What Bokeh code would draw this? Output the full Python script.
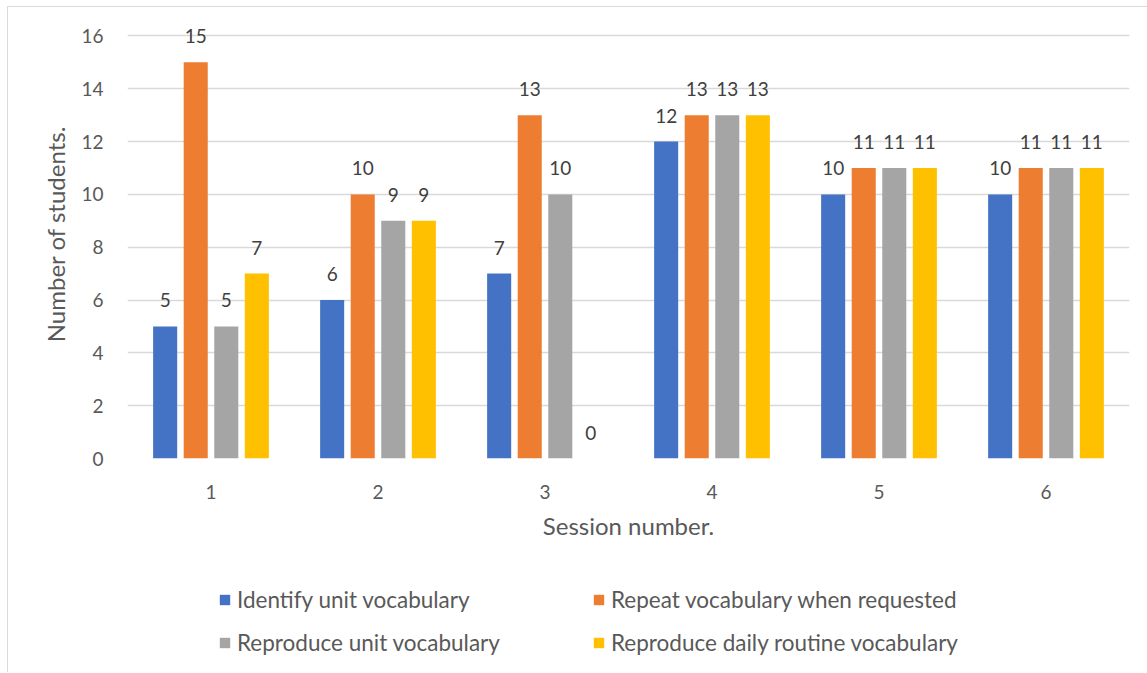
from bokeh.plotting import figure
from bokeh.layouts import column
from bokeh.models import ColumnDataSource, FactorRange, LabelSet, Legend, LegendItem
from bokeh.core.properties import value
from bokeh.transform import dodge
from bokeh.embed import file_html
from bokeh.resources import INLINE

sessions = ["1", "2", "3", "4", "5", "6"]
series_names = [
    "Identify unit vocabulary",
    "Repeat vocabulary when requested",
    "Reproduce unit vocabulary",
    "Reproduce daily routine vocabulary",
]
identify_unit = [5, 6, 7, 12, 10, 10]
repeat_requested = [15, 10, 13, 13, 11, 11]
reproduce_unit = [5, 9, 10, 13, 11, 11]
reproduce_routine = [7, 9, 0, 13, 11, 11]
y_ticks = [0, 2, 4, 6, 8, 10, 12, 14, 16]

colors = ["#4472C4", "#ED7D31", "#A5A5A5", "#FFC000"]
FONT = "Lato"
TEXT_GREY = "#595959"
BORDER = "#d9d9d9"

all_series = [identify_unit, repeat_requested, reproduce_unit, reproduce_routine]
keys = ["s0", "s1", "s2", "s3"]
data = {"session": sessions}
for k, vals in zip(keys, all_series):
    data[k] = vals
    data[k + "_lbl"] = [str(v) for v in vals]
source = ColumnDataSource(data)

step = 0.183
offsets = [-1.5 * step, -0.5 * step, 0.5 * step, 1.5 * step]
bar_width = 0.144

# ---- main bar chart ----
# the range goes a little past the top gridline so the tallest value label has room
p = figure(
    x_range=FactorRange(*sessions, range_padding=0),
    y_range=(0, 17),
    width=1139, height=559,
    output_backend="svg", toolbar_location=None,
    min_border_left=119, min_border_right=18,
    min_border_top=2, min_border_bottom=108,
)
p.outline_line_color = None
p.background_fill_color = "white"
p.border_fill_color = "white"

for k, off, c in zip(keys, offsets, colors):
    p.vbar(x=dodge("session", off, range=p.x_range), top=k, width=bar_width,
           source=source, fill_color=c, line_color=None)
    labels = LabelSet(x=dodge("session", off, range=p.x_range), y=k, text=k + "_lbl",
                      source=source, text_align="center", text_baseline="bottom",
                      y_offset=19, text_font=value(FONT), text_font_size="19px",
                      text_color="#404040")
    p.add_layout(labels)

p.yaxis.ticker = y_ticks
p.yaxis.axis_line_color = None
p.yaxis.major_tick_line_color = None
p.yaxis.minor_tick_line_color = None
p.yaxis.major_label_standoff = 18
p.yaxis.axis_label = "Number of students."
p.yaxis.axis_label_standoff = 8
p.xaxis.axis_line_color = None
p.xaxis.major_tick_line_color = None
p.xaxis.major_label_standoff = 20
p.xaxis.axis_label = "Session number."
p.xaxis.axis_label_standoff = 9
for ax in (p.xaxis, p.yaxis):
    ax.major_label_text_font = FONT
    ax.major_label_text_font_size = "19px"
    ax.major_label_text_color = TEXT_GREY
    ax.axis_label_text_font = FONT
    ax.axis_label_text_font_size = "24px"
    ax.axis_label_text_font_style = "normal"
    ax.axis_label_text_color = TEXT_GREY

p.xgrid.grid_line_color = None
p.ygrid.grid_line_color = BORDER
p.ygrid.grid_line_width = 1.3

# ---- legend strip under the chart ----
leg = figure(
    width=1139, height=106,
    x_range=FactorRange(*sessions, range_padding=0), y_range=(0, 1),
    x_axis_type=None, y_axis_type=None,
    output_backend="svg", toolbar_location=None,
    min_border_left=0, min_border_right=0, min_border_top=0, min_border_bottom=0,
)
leg.outline_line_color = None
leg.xgrid.visible = False
leg.ygrid.visible = False
# hidden copies of the series, used only for the legend swatches
swatches = [
    leg.vbar(x=dodge("session", off, range=leg.x_range), top=k, width=bar_width,
             source=source, fill_color=c, line_color=None, visible=False)
    for k, off, c in zip(keys, offsets, colors)
]

legend = Legend(
    items=[LegendItem(label=n, renderers=[r]) for n, r in zip(series_names, swatches)],
    orientation="horizontal", ncols=2,
    location=(91, 15),
    glyph_width=13, glyph_height=13, label_standoff=6,
    label_width=342, spacing=13, padding=0, margin=0,
    label_text_font=FONT, label_text_font_size="22.5px", label_text_color=TEXT_GREY,
    border_line_color=None, background_fill_alpha=0,
    label_height=30,
)
leg.add_layout(legend)

page = column(p, leg, spacing=0)
page.margin = (6, 0, 0, 7)
page.styles = {"border-left": f"1px solid {BORDER}", "border-top": f"1px solid {BORDER}"}

open("out.html", "w").write(file_html(page, INLINE))
